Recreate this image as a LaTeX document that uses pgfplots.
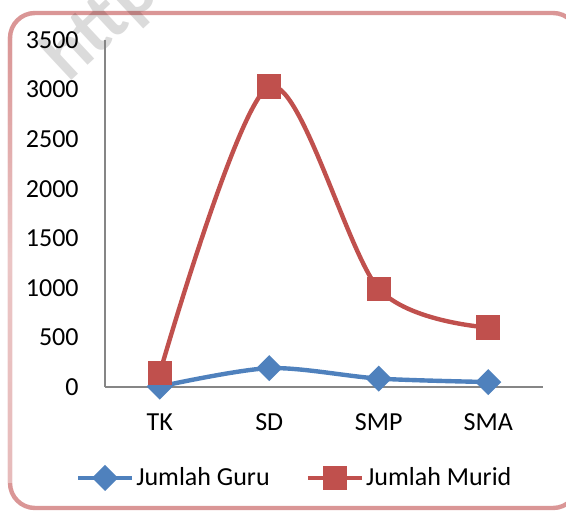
\documentclass[border=0pt]{standalone}
\usepackage{fontspec}
\setmainfont{Carlito}
\usepackage{pgfplots}
\pgfplotsset{compat=1.18}
\definecolor{guru}{RGB}{79,129,189}
\definecolor{murid}{RGB}{192,80,77}
\definecolor{bingkai}{RGB}{218,150,150}
\definecolor{sumbu}{RGB}{134,134,134}
\begin{document}
\begin{tikzpicture}
\useasboundingbox (0,0) rectangle (283pt,-256pt);
\clip (0,0) rectangle (283pt,-256pt);
% frame
\draw[bingkai, line width=2.2pt, rounded corners=12.5pt] (5pt,-6.5pt) rectangle (289pt,-254pt);
\shade[top color=bingkai, bottom color=bingkai!65, middle color=bingkai!55]
  (3.9pt,-19pt) rectangle (6.1pt,-241pt);
% watermark
\node[rotate=43, anchor=base west, text=black, opacity=0.14,
  font=\bfseries\fontsize{37}{37}\selectfont, inner sep=0pt]
  at (34pt,-42pt) {http://};
\begin{axis}[
  at={(52.5pt,-193.5pt)}, anchor=south west, scale only axis,
  width=219pt, height=173.5pt,
  xmin=-0.5, xmax=3.5, ymin=0, ymax=3500,
  xtick={0,1,2,3}, xticklabels={TK,SD,SMP,SMA},
  ytick={0,500,...,3500},
  axis lines*=left, axis line style={sumbu, line width=0.6pt},
  major tick length=0pt,
  /pgf/number format/assume math mode=true,
  /pgf/number format/1000 sep={},
  tick label style={font=\fontsize{13}{15}\selectfont, inner sep=0pt},
  yticklabel style={xshift=-13pt},
  xticklabel style={yshift=-13pt},
  clip=false,
  legend style={at={(0.433,-0.262)}, anchor=center, draw=none, fill=none,
    legend columns=2, font=\fontsize{13}{15}\selectfont,
    /tikz/every even column/.append style={column sep=17pt},
    nodes={inner xsep=1pt}},
  legend image code/.code={\draw[#1, mark repeat=2, mark phase=2]
    plot coordinates {(0pt,0pt) (13.5pt,0pt) (27pt,0pt)};},
]
\addplot[guru, line width=2.2pt, smooth, tension=0.5, mark=square*,
  mark size=3.5pt, mark options={rotate=45, fill=guru}]
  coordinates {(0,5) (1,190) (2,85) (3,50)};
\addlegendentry{Jumlah Guru}
\addplot[murid, line width=2.2pt, smooth, tension=0.5, mark=square*,
  mark size=5pt, mark options={fill=murid}]
  coordinates {(0,140) (1,3030) (2,990) (3,600)};
\addlegendentry{Jumlah Murid}
\end{axis}
\end{tikzpicture}
\end{document}
